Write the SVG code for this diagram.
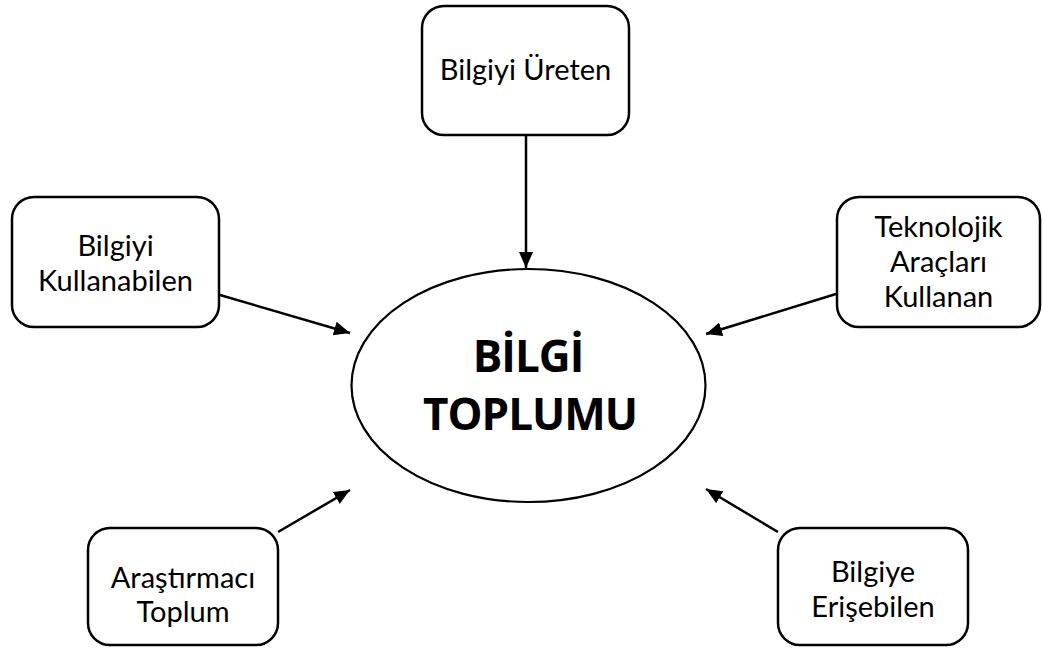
<svg xmlns="http://www.w3.org/2000/svg" width="1043" height="648" viewBox="0 0 1043 648">
<style>
.box{fill:#fff;stroke:#000;stroke-width:2.5}
.t{font-family:Lato,"Open Sans",sans-serif;font-size:29px;fill:#000;text-anchor:middle}
.title{font-family:"Open Sans","Liberation Sans",sans-serif;font-size:44px;font-weight:bold;fill:#000;text-anchor:middle}
.c{stroke:#000;stroke-width:2.5;fill:none;marker-end:url(#ah)}
</style>
<defs>
<marker id="ah" markerUnits="userSpaceOnUse" markerWidth="18" markerHeight="16" refX="16" refY="7" orient="auto">
<path d="M0,0 L16,7 L0,14 Z" fill="#000"/>
</marker>
</defs>
<rect width="1043" height="648" fill="#fff"/>
<g id="connectors">
<line class="c" x1="526" y1="135" x2="526" y2="268"/>
<line class="c" x1="220" y1="295" x2="350" y2="333"/>
<line class="c" x1="836" y1="294" x2="706" y2="334"/>
<line class="c" x1="278" y1="532" x2="350" y2="490"/>
<line class="c" x1="778" y1="532" x2="706" y2="489"/>
</g>
<g id="center">
<ellipse cx="528.5" cy="385.5" rx="177" ry="116.5" fill="#fff" stroke="#000" stroke-width="2.2"/>
<text class="title" x="528" y="372" letter-spacing="-1">BİLGİ</text>
<text class="title" x="530" y="430" letter-spacing="-1">TOPLUMU</text>
</g>
<g id="top">
<rect class="box" x="422" y="6" width="207" height="129" rx="22"/>
<text class="t" x="525.5" y="80">Bilgiyi Üreten</text>
</g>
<g id="left">
<rect class="box" x="12" y="197" width="207" height="130" rx="22"/>
<text class="t" x="115.5" y="256">Bilgiyi</text>
<text class="t" x="115.5" y="291">Kullanabilen</text>
</g>
<g id="right">
<rect class="box" x="837" y="197" width="203" height="130" rx="22"/>
<text class="t" x="938.5" y="237">Teknolojik</text>
<text class="t" x="938.5" y="272">Araçları</text>
<text class="t" x="938.5" y="307">Kullanan</text>
</g>
<g id="bottomleft">
<rect class="box" x="88" y="528" width="190" height="117" rx="22"/>
<text class="t" x="183" y="588">Araştırmacı</text>
<text class="t" x="183" y="622">Toplum</text>
</g>
<g id="bottomright">
<rect class="box" x="778" y="528" width="190" height="117" rx="22"/>
<text class="t" x="873" y="582">Bilgiye</text>
<text class="t" x="873" y="617">Erişebilen</text>
</g>
</svg>
